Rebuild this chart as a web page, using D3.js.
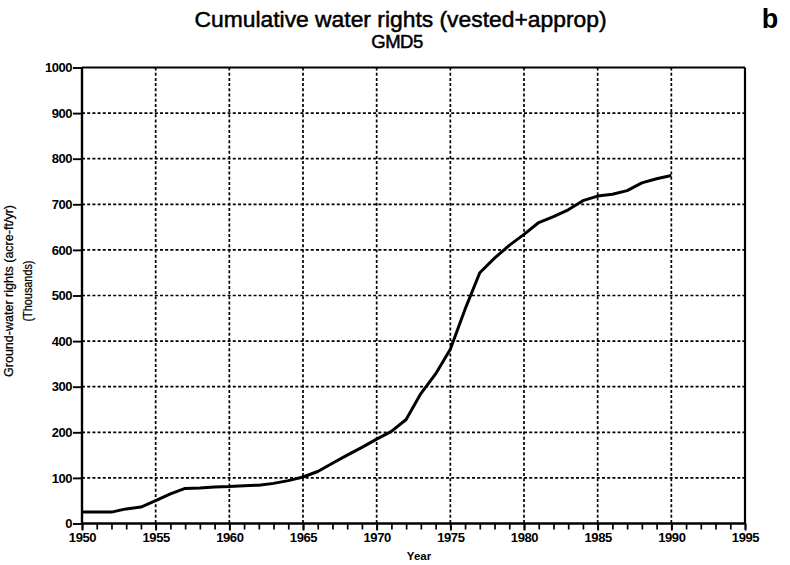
<!DOCTYPE html>
<html>
<head>
<meta charset="utf-8">
<script src="https://cdn.jsdelivr.net/npm/d3@7"></script>
<style>
  html, body { margin: 0; padding: 0; background: #fff; }
  svg { display: block; font-family: "Liberation Sans", Arial, sans-serif; }
</style>
</head>
<body>
<svg id="chart" width="790" height="565"></svg>
<script>
// Cumulative ground-water rights in GMD5, thousands of acre-ft/yr
const years = [1950, 1951, 1952, 1953, 1954, 1955, 1956, 1957, 1958, 1959,
               1960, 1961, 1962, 1963, 1964, 1965, 1966, 1967, 1968, 1969,
               1970, 1971, 1972, 1973, 1974, 1975, 1976, 1977, 1978, 1979,
               1980, 1981, 1982, 1983, 1984, 1985, 1986, 1987, 1988, 1989, 1990];
const rights = [25, 25, 25, 32, 36, 50, 65, 77, 78, 80,
                81, 83, 84, 88, 94, 102, 114, 132, 150, 167,
                185, 202, 228, 285, 328, 382, 470, 550, 582, 610,
                634, 660, 673, 688, 708, 718, 722, 730, 747, 756, 763];
const xTicks = [1950, 1955, 1960, 1965, 1970, 1975, 1980, 1985, 1990, 1995];
const yTicks = [0, 100, 200, 300, 400, 500, 600, 700, 800, 900, 1000];

const svg = d3.select("#chart");
const plotLeft = 82, plotRight = 745, plotTop = 67.5, plotBottom = 523.5;

const x = d3.scaleLinear().domain([1950, 1995]).range([plotLeft, plotRight]);
const y = d3.scaleLinear().domain([0, 1000]).range([plotBottom, plotTop]);

// dotted grid
const grid = svg.append("g").attr("stroke", "#000").attr("stroke-width", 1.7)
  .attr("stroke-dasharray", "3,2.2");
grid.selectAll("line.v").data(xTicks.slice(1, -1)).join("line").attr("class", "v")
  .attr("x1", d => x(d)).attr("x2", d => x(d)).attr("y1", plotTop).attr("y2", plotBottom);
grid.selectAll("line.h").data(yTicks.slice(1, -1)).join("line").attr("class", "h")
  .attr("x1", plotLeft).attr("x2", plotRight).attr("y1", d => y(d)).attr("y2", d => y(d));

// frame: top and right edges
svg.append("line").attr("x1", plotLeft).attr("x2", plotRight).attr("y1", plotTop).attr("y2", plotTop)
  .attr("stroke", "#000").attr("stroke-width", 2);
svg.append("line").attr("x1", plotRight).attr("x2", plotRight).attr("y1", plotTop).attr("y2", plotBottom)
  .attr("stroke", "#000").attr("stroke-width", 2.2);

// x axis with yearly minor ticks
const xAxisMinor = d3.axisBottom(x).tickValues(d3.range(1950, 1996)).tickSize(6).tickFormat("");
const gxm = svg.append("g").attr("transform", `translate(0,${plotBottom})`).call(xAxisMinor);
gxm.select(".domain").remove();
gxm.selectAll(".tick line").attr("stroke-width", 1.7);

const xAxis = d3.axisBottom(x).tickValues(xTicks).tickSize(7).tickPadding(2).tickFormat(d3.format("d"));
const gx = svg.append("g").attr("transform", `translate(0,${plotBottom})`).call(xAxis);
gx.select(".domain").attr("stroke-width", 2.4).attr("d", `M${plotLeft},0H${plotRight}`);
gx.selectAll(".tick line").attr("stroke-width", 1.9);
gx.selectAll(".tick text").attr("font-size", 13).attr("font-weight", "bold")
  .attr("letter-spacing", -0.4).attr("fill", "#000");

const yAxis = d3.axisLeft(y).tickValues(yTicks).tickSize(9).tickPadding(1).tickFormat(d3.format("d"));
const gy = svg.append("g").attr("transform", `translate(${plotLeft},0)`).call(yAxis);
gy.select(".domain").attr("stroke-width", 2.4).attr("d", `M0,${plotBottom}V${plotTop}`);
gy.selectAll(".tick line").attr("stroke-width", 1.9);
gy.selectAll(".tick text").attr("font-size", 13).attr("font-weight", "bold")
  .attr("letter-spacing", -0.5).attr("fill", "#000");

// cumulative rights curve
const data = years.map((yr, i) => ({ yr, v: rights[i] }));
svg.append("path").datum(data)
  .attr("fill", "none").attr("stroke", "#000").attr("stroke-width", 3)
  .attr("stroke-linejoin", "round")
  .attr("d", d3.line().x(d => x(d.yr)).y(d => y(d.v)));

// titles and labels (thin stroke gives the heavy print look)
const heavy = sel => sel.attr("fill", "#000").attr("stroke", "#000").attr("stroke-width", 0.5);
svg.append("text").attr("x", 400.5).attr("y", 26.5).attr("text-anchor", "middle")
  .attr("font-size", 22).attr("textLength", 412).attr("lengthAdjust", "spacingAndGlyphs")
  .call(heavy)
  .text("Cumulative water rights (vested+approp)");
svg.append("text").attr("x", 397).attr("y", 48).attr("text-anchor", "middle")
  .attr("font-size", 18.5).attr("letter-spacing", -0.5)
  .call(heavy)
  .text("GMD5");
svg.append("text").attr("x", 770).attr("y", 28).attr("text-anchor", "middle")
  .attr("font-size", 27).attr("font-weight", "bold").text("b");

svg.append("text").attr("x", 419).attr("y", 560).attr("text-anchor", "middle")
  .attr("font-size", 11.5).attr("font-weight", "bold").text("Year");

const yl = svg.append("g").attr("transform", "translate(0,291) rotate(-90)");
yl.append("text").attr("text-anchor", "middle").attr("y", 13)
  .attr("font-size", 12).attr("textLength", 172).attr("lengthAdjust", "spacingAndGlyphs")
  .call(sel => sel.attr("stroke", "#000").attr("stroke-width", 0.25))
  .text("Ground-water rights (acre-ft/yr)");
yl.append("text").attr("text-anchor", "middle").attr("y", 32)
  .attr("font-size", 12).attr("textLength", 61).attr("lengthAdjust", "spacingAndGlyphs")
  .call(sel => sel.attr("stroke", "#000").attr("stroke-width", 0.25))
  .text("(Thousands)");
</script>
</body>
</html>
